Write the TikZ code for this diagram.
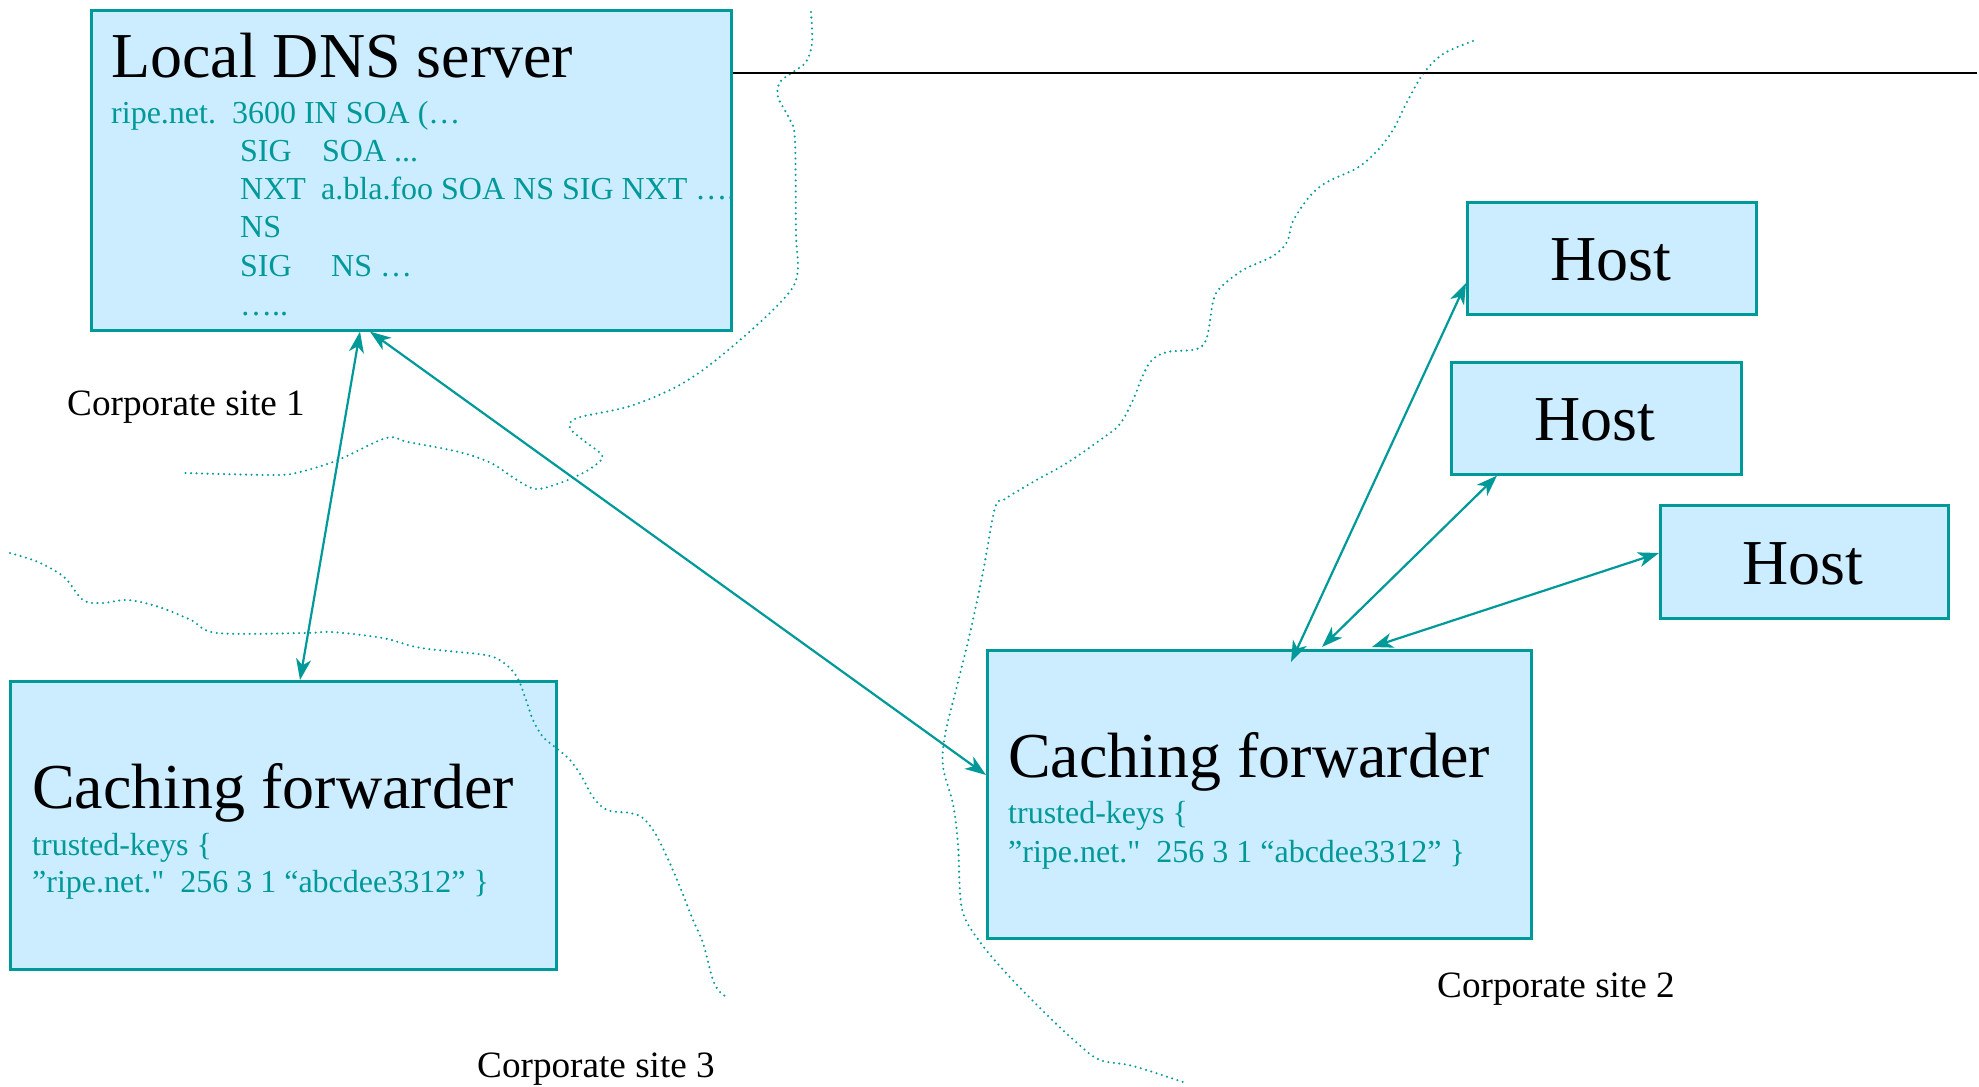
\documentclass[tikz,border=0pt]{standalone}
\usepackage{fontspec}
\setmainfont{Liberation Serif}[Ligatures=TeXOff]
\usetikzlibrary{arrows.meta,calc}
\definecolor{tealc}{RGB}{0,153,153}
\definecolor{fillb}{RGB}{204,236,255}
\begin{document}
\begin{tikzpicture}[x=1pt,y=-1pt,
  box/.style={draw=tealc, fill=fillb, line width=2.6pt, inner sep=0pt, anchor=north west},
  ttl/.style={inner sep=0pt, anchor=base west, font=\fontsize{64}{64}\selectfont},
  htxt/.style={inner sep=0pt, anchor=base, font=\fontsize{64}{64}\selectfont},
  sm/.style={inner sep=0pt, anchor=base west, text=tealc, font=\fontsize{32}{38}\selectfont},
  lbl/.style={inner sep=0pt, anchor=base west, font=\fontsize{37.2}{40}\selectfont},
  arr/.style={draw=tealc, line width=2.2pt, {Stealth[length=21pt,width=15pt,inset=6pt]}-{Stealth[length=21pt,width=15pt,inset=6pt]}},
  dotline/.style={draw=tealc, line width=2.3pt, line cap=round, dash pattern=on 0pt off 5.5pt}]
\useasboundingbox (0,0) rectangle (1979,1087);

% boxes
\node[box, minimum width=640pt, minimum height=320pt] (dns) at (90,9) {};
\node[box, minimum width=546pt, minimum height=288pt] (cfl) at (9,680) {};
\node[box, minimum width=544pt, minimum height=288pt] (cfr) at (986,649) {};
\node[box, minimum width=289pt, minimum height=112pt] (h1) at (1466,201) {};
\node[box, minimum width=290pt, minimum height=112pt] (h2) at (1450,361) {};
\node[box, minimum width=288pt, minimum height=113pt] (h3) at (1659,504) {};

% boundaries
\draw[dotline] plot[smooth, tension=0.55] coordinates {(811,12) (812,43) (806,62) (793,72) (780,82) (778,97) (790,120) (795,140) (796,233) (798,267) (793,287) (773,310) (740,340) (703,370) (670,390) (627,407) (577,418) (570,428) (583,440) (602,455) (598,463) (583,473) (560,483) (536,489) (517,480) (491,463) (459,452) (408,442) (386,438) (338,460) (300,472) (274,475) (185,473)};
\draw[dotline] plot[smooth, tension=0.55] coordinates {(10,553) (38,562) (64,577) (83,600) (102,603) (128,600) (159,607) (191,620) (217,633) (306,633) (332,632) (383,638) (421,648) (485,655) (504,663) (517,677) (525,697) (533,720) (543,737) (555,747) (570,760) (582,777) (593,797) (607,810) (630,813) (643,818) (655,833) (667,857) (680,887) (693,920) (703,943) (712,977) (718,990) (728,998)};
\draw[dotline] plot[smooth, tension=0.55] coordinates {(1473,41) (1443,54) (1423,74) (1407,102) (1393,130) (1377,151) (1357,168) (1327,182) (1310,196) (1293,221) (1287,242) (1273,256) (1243,270) (1220,288) (1213,302) (1207,337) (1197,349) (1167,352) (1152,360) (1143,375) (1133,400) (1120,424) (1103,438) (1067,463) (1033,482) (1005,499) (995,508) (983,572) (970,633) (957,686) (945,735) (943,767) (953,804) (958,844) (962,909) (980,942) (1007,974) (1043,1011) (1077,1043) (1100,1060) (1133,1066) (1183,1082)};

% black line
\coordinate (lineend) at (1977,73);
\draw[line width=2pt] ([yshift=-64pt]dns.north east) -- (lineend);

% DNS text
\node[ttl] (dnst) at (111,77) {Local DNS server};
\node[sm] (d1) at (111,123) {ripe.net.\ \ 3600 IN SOA (…};
\node[sm] (d2a) at (240,161) {SIG};
\node[sm] (d2b) at (322,161) {SOA ...};
\node[sm] (d3a) at (240,199) {NXT};
\node[sm] (d3b) at (321,199) {a.bla.foo SOA NS SIG NXT ….};
\node[sm] (d4) at (240,237) {NS};
\node[sm] (d5a) at (240,276) {SIG};
\node[sm] (d5b) at (331,276) {NS …};
\node[sm] (d6) at (240,315) {…..};

% caching forwarder left
\node[ttl] (cflt) at (32,808) {Caching forwarder};
\node[sm] (cfl1) at (32,855) {trusted-keys \{};
\node[sm] (cfl2) at (32,892) {”ripe.net."\ \ 256 3 1 “abcdee3312” \}};

% caching forwarder right
\node[ttl] (cfrt) at (1008,777) {Caching forwarder};
\node[sm] (cfr1) at (1008,823) {trusted-keys \{};
\node[sm] (cfr2) at (1008,862) {”ripe.net."\ \ 256 3 1 “abcdee3312” \}};

% hosts
\node[htxt] (h1t) at (1611,280) {Host};
\node[htxt] (h2t) at (1595,440) {Host};
\node[htxt] (h3t) at (1803,584) {Host};

% labels
\node[lbl] (s1) at (67,415) {Corporate site 1};
\node[lbl] (s2) at (1437,997) {Corporate site 2};
\node[lbl] (s3) at (477,1077) {Corporate site 3};

% arrows
\draw[arr] ([xshift=270pt]dns.south west) -- ([xshift=291pt]cfl.north west);
\draw[arr] ([xshift=280pt]dns.south west) -- ([yshift=-126pt]cfr.north west);
\draw[arr] ([xshift=305pt,yshift=-13pt]cfr.north west) -- ([yshift=-82pt]h1.north west);
\draw[arr] ([xshift=336pt,yshift=2pt]cfr.north west) -- ([xshift=47pt]h2.south west);
\draw[arr] ([xshift=386pt,yshift=2pt]cfr.north west) -- ([yshift=-49pt]h3.north west);
\end{tikzpicture}
\end{document}
